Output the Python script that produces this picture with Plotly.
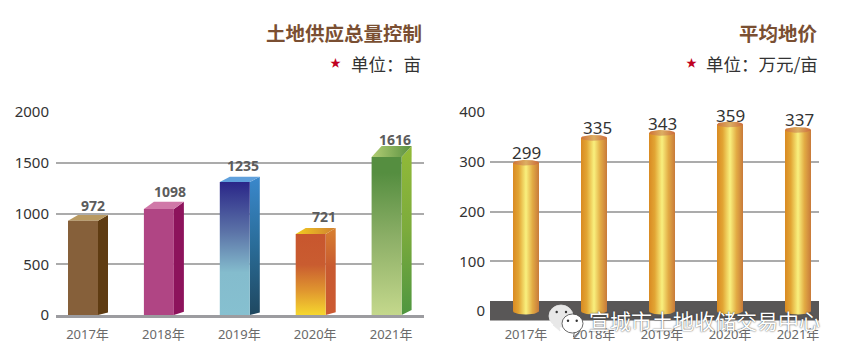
import numpy as np
import plotly.graph_objects as go

W, H = 848, 359

years = ["2017年", "2018年", "2019年", "2020年", "2021年"]

# left chart
supply_labels = [972, 1098, 1235, 721, 1616]
supply_heights = [929, 1044, 1310, 798, 1556]   # drawn front-face tops
supply_rise = [56, 72, 52, 60, 109]            # rise of the 3-D top
supply_ticks = [0, 500, 1000, 1500, 2000]

# right chart
price_labels = [299, 335, 343, 359, 337]
price_heights = [298, 348, 358, 375, 364]       # drawn cylinder tops
price_ticks = [0, 100, 200, 300, 400]

# layout in pixels
L_X0, L_X1, L_Y0, L_Y1 = 56, 424, 315, 112
R_X0, R_X1, R_Y0, R_Y1 = 490, 819, 321, 112
L_SCALE = (L_Y0 - L_Y1) / 2000
R_ZERO = 311
R_SCALE = (R_ZERO - R_Y1) / 400

L_C0, L_STEP = 87.5, 75.9
R_C0, R_STEP = 526, 68


def flat(c):
    return [[0, c], [1, c]]


front_grad = [
    flat("#86603a"),
    flat("#b04584"),
    [[0, "#86c0d0"], [0.32, "#84bccd"], [0.62, "#5c74a8"], [1, "#2a2688"]],
    [[0, "#f6d72e"], [0.3, "#e0962f"], [0.62, "#c95c30"], [1, "#c8562e"]],
    [[0, "#c4d88c"], [0.5, "#8bae66"], [0.9, "#558e40"], [1, "#558e40"]],
]
side_grad = [
    flat("#5f3c12"),
    flat("#8d135c"),
    [[0, "#1f4860"], [0.5, "#2a6c98"], [1, "#3a88cc"]],
    [[0, "#cc5a32"], [0.55, "#c85a30"], [1, "#d88030"]],
    [[0, "#4f9640"], [0.5, "#7cab3c"], [1, "#92ba38"]],
]
top_grad = [
    flat("#b99a62"),
    flat("#d078a8"),
    flat("#5fa0dc"),
    [[0, "#f2cc20"], [1, "#d07f30"]],
    [[0, "#b2ce74"], [1, "#5a9040"]],
]

CYL = [[0, "#d98a22"], [0.22, "#e2a534"], [0.5, "#f9f07e"], [0.75, "#e2ab44"], [1, "#c87a3a"]]
CAP = [[0, "#cf7238"], [0.5, "#dcae62"], [1, "#cc6a3a"]]

fig = go.Figure()


def poly(xs, ys, xa, ya, kind, cs):
    fig.add_trace(go.Scatter(
        x=list(xs), y=list(ys), xaxis=xa, yaxis=ya, mode="lines",
        line=dict(width=0), fill="toself", hoverinfo="skip", showlegend=False,
        fillgradient=dict(type=kind, colorscale=cs),
    ))


# 3-D boxes, category units: front face -19.5..+10.5 px around the tick, side +10 px
fl, fr, fd = -19.5 / L_STEP, 10.5 / L_STEP, 10 / L_STEP
for i, v in enumerate(supply_heights):
    r = supply_rise[i]
    base_r = r * 0.45
    poly([i + fr, i + fr + fd, i + fr + fd, i + fr],
         [0, base_r, v + r, v], "x", "y", "vertical", side_grad[i])
    poly([i + fl, i + fr, i + fr + fd, i + fl + fd],
         [v, v, v + r, v + r], "x", "y", "horizontal", top_grad[i])
    poly([i + fl, i + fr, i + fr, i + fl],
         [0, 0, v, v], "x", "y", "vertical", front_grad[i])

# dark band behind the cylinders, in the right chart's own scales
bx0, bx1 = (R_X0 - R_C0) / R_STEP, (R_X1 - R_C0) / R_STEP
by0, by1 = (R_ZERO - 320.5) / R_SCALE, (R_ZERO - 301) / R_SCALE
poly([bx0, bx1, bx1, bx0], [by0, by0, by1, by1], "x2", "y2", "horizontal", flat("#595757"))

# cylinders
hw = 13 / R_STEP
ry = 3.6 / R_SCALE
t = np.linspace(0, np.pi, 40)
for i, v in enumerate(price_heights):
    bx = i + hw * np.cos(t + np.pi)           # bottom arc, left to right
    by = 0 + ry * np.sin(t + np.pi)
    xs = np.r_[bx, i + hw, i - hw]
    ys = np.r_[by, v, v]
    poly(xs, ys, "x2", "y2", "horizontal", CYL)
    tt = np.linspace(0, 2 * np.pi, 60)
    poly(i + hw * np.cos(tt), v + 0.8 * ry * np.sin(tt), "x2", "y2", "horizontal", CAP)


def px(x):
    return x / W


def py(y):
    return 1 - y / H


TICK_FONT = dict(family="Noto Sans, Noto Sans CJK SC", size=13, color="#6a6a6a")
Y_FONT = dict(family="Noto Sans, Open Sans", size=15, color="#333333")

fig.update_layout(
    width=W, height=H, margin=dict(l=0, r=0, t=0, b=0, autoexpand=False),
    paper_bgcolor="white", plot_bgcolor="white", showlegend=False,
    xaxis=dict(domain=[px(L_X0), px(L_X1)], anchor="y",
               range=[(L_X0 - L_C0) / L_STEP, (L_X1 - L_C0) / L_STEP],
               tickmode="array", tickvals=list(range(5)), ticktext=years,
               tickfont=TICK_FONT, ticks="outside", ticklen=5, tickcolor="rgba(0,0,0,0)",
               showgrid=False, zeroline=False, showline=True, linecolor="#9c9ca0", linewidth=3),
    yaxis=dict(domain=[py(L_Y0), py(L_Y1)], anchor="x", range=[0, 2000],
               tickmode="array", tickvals=supply_ticks, tickfont=Y_FONT,
               ticks="outside", ticklen=3, tickcolor="rgba(0,0,0,0)",
               showgrid=True, gridcolor="#ababab", gridwidth=1.5, zeroline=False, showline=False),
    xaxis2=dict(domain=[px(R_X0), px(R_X1)], anchor="y2",
                range=[bx0, bx1],
                tickmode="array", tickvals=list(range(5)), ticktext=years,
                tickfont=TICK_FONT, ticks="outside", ticklen=1, tickcolor="rgba(0,0,0,0)",
                showgrid=False, zeroline=False, showline=False),
    yaxis2=dict(domain=[py(R_Y0), py(R_Y1)], anchor="x2",
                range=[-(R_Y0 - R_ZERO) / R_SCALE, 400],
                tickmode="array", tickvals=price_ticks, tickfont=Y_FONT,
                ticks="outside", ticklen=1, tickcolor="rgba(0,0,0,0)",
                showgrid=True, gridcolor="#ababab", gridwidth=1.5, zeroline=False, showline=False),
)

# value labels
lab_dx = [5.5, 7, 4, 8.5, 4]
lab_dy = [15, 18, 17, 18, 18]
for i, (lab, v) in enumerate(zip(supply_labels, supply_heights)):
    fig.add_annotation(x=i, y=v, xref="x", yref="y", text=str(lab), showarrow=False,
                       xshift=lab_dx[i], yshift=lab_dy[i],
                       font=dict(family="Noto Sans, Open Sans", size=14, color="#5c5c5c", weight="bold"))
p_dx = [0.7, 3.2, 0.2, 0, 1.5]
p_dy = [10, 10, 9, 9, 10]
for i, (lab, v) in enumerate(zip(price_labels, price_heights)):
    fig.add_annotation(x=i, y=v, xref="x2", yref="y2", text=str(lab), showarrow=False,
                       xshift=p_dx[i], yshift=p_dy[i],
                       font=dict(family="Noto Sans, Open Sans", size=17, color="#333333"))


def text(x, y, s, size, color, anchor="right", **kw):
    fig.add_annotation(x=px(x), y=py(y), xref="paper", yref="paper", text=s, showarrow=False,
                       xanchor=anchor, yanchor="middle", xshift=0,
                       font=dict(family="Noto Sans CJK SC", size=size, color=color, **kw))


BROWN = "#7a4f32"
text(423.5, 33, "土地供应总量控制", 19.5, BROWN, weight="bold")
text(423, 64, "单位：亩", 17.5, "#333333")
text(820, 33, "平均地价", 19.5, BROWN, weight="bold")
text(820, 64, "单位：万元/亩", 17.5, "#333333")
text(335, 62, "★", 11, "#c00020", anchor="center")
text(691, 62, "★", 11, "#c00020", anchor="center")

# watermark: two chat bubbles and the source name
for cx, cy, rx, ry_, fc, lc, tx in [(561, 316, 12, 11, "#e8e8e8", "#e8e8e8", -5),
                                    (572.5, 323.5, 10.5, 9.5, "#ffffff", "#444444", 5)]:
    fig.add_shape(type="path", xref="paper", yref="paper",
                  path=f"M {px(cx + tx - 3)} {py(cy + ry_ - 2)} L {px(cx + tx - 4 * np.sign(tx))} {py(cy + ry_ + 4)} L {px(cx + tx + 3)} {py(cy + ry_ - 2)} Z",
                  fillcolor=fc, line=dict(color=lc, width=0.8))
    fig.add_shape(type="circle", xref="paper", yref="paper",
                  x0=px(cx - rx), x1=px(cx + rx), y0=py(cy + ry_), y1=py(cy - ry_),
                  fillcolor=fc, line=dict(color=lc, width=0.8))
for cx, cy, c in [(556.7, 312, "#333"), (566, 312, "#333"), (568, 320.7, "#333"), (576.7, 320.7, "#333")]:
    fig.add_shape(type="circle", xref="paper", yref="paper",
                  x0=px(cx - 1.2), x1=px(cx + 1.2), y0=py(cy + 1.2), y1=py(cy - 1.2),
                  fillcolor=c, line_width=0)
text(587, 320, "宣城市土地收储交易中心", 21, "#ffffff", anchor="left", shadow="0 0 1.5px #222222")

fig.write_html("out.html", config=dict(displayModeBar=False),
               post_script="document.body.style.margin='0';document.documentElement.style.overflow='hidden';")
